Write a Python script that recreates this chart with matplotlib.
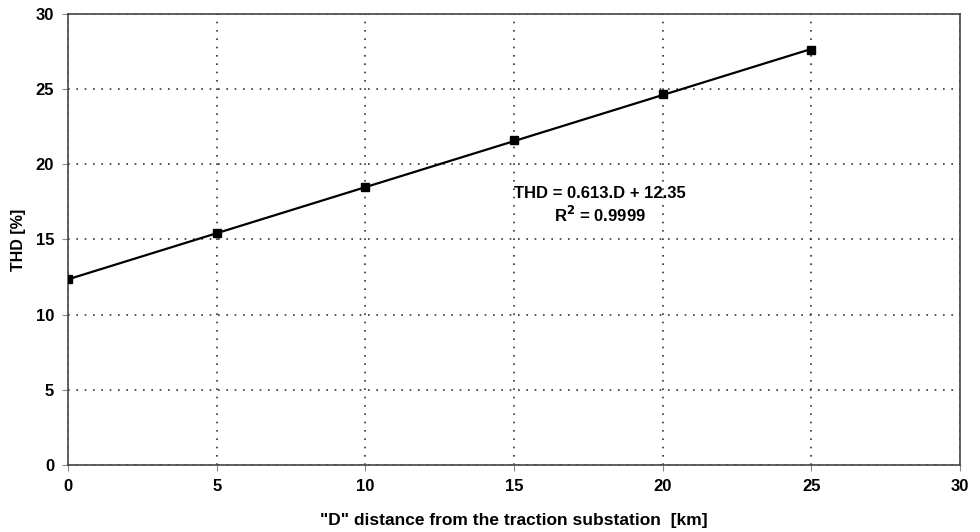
import numpy as np
import matplotlib
matplotlib.use('Agg')
import matplotlib.pyplot as plt

# Measured THD values along the line
distance_km = [0, 5, 10, 15, 20, 25]
thd_pct = [12.4, 15.4, 18.5, 21.6, 24.7, 27.6]

# Linear trend line (from the chart annotation)
slope = 0.613
intercept = 12.35

plt.rcParams['font.family'] = 'Liberation Sans'
plt.rcParams['font.weight'] = 'bold'

fig = plt.figure(figsize=(9.8, 5.32), dpi=100)
ax = fig.add_axes([0.0694, 0.126, 0.9102, 0.8477])

x_fit = np.array([distance_km[0], distance_km[-1]])
ax.plot(x_fit, slope * x_fit + intercept, color='black', linewidth=1.6, zorder=3)
ax.plot(distance_km, thd_pct, linestyle='none', marker='s', markersize=6,
        color='black', zorder=4)

ax.set_xlim(0, 30)
ax.set_ylim(0, 30)
ax.set_xticks(range(0, 31, 5))
ax.set_yticks(range(0, 31, 5))
ax.grid(True, linestyle=(0, (1, 4)), color='#333333', linewidth=1.2)
for s in ax.spines.values():
    s.set_color('#444444')
    s.set_linewidth(1.2)
ax.tick_params(length=4, width=0.8, color='#888888', labelsize=12, pad=6)

ax.text(17.9, 18.05, 'THD = 0.613.D + 12.35', ha='center', va='center',
        fontsize=12, fontweight='bold')
ax.text(17.9, 16.6, 'R$^\\mathbf{2}$ = 0.9999', ha='center', va='center',
        fontsize=12, fontweight='bold')

ax.set_xlabel('"D" distance from the traction substation  [km]', fontsize=12.5,
              fontweight='bold', labelpad=14)
ax.set_ylabel('THD [%]', fontsize=11.5, fontweight='bold', labelpad=7)

fig.savefig('out.png', dpi=100)
